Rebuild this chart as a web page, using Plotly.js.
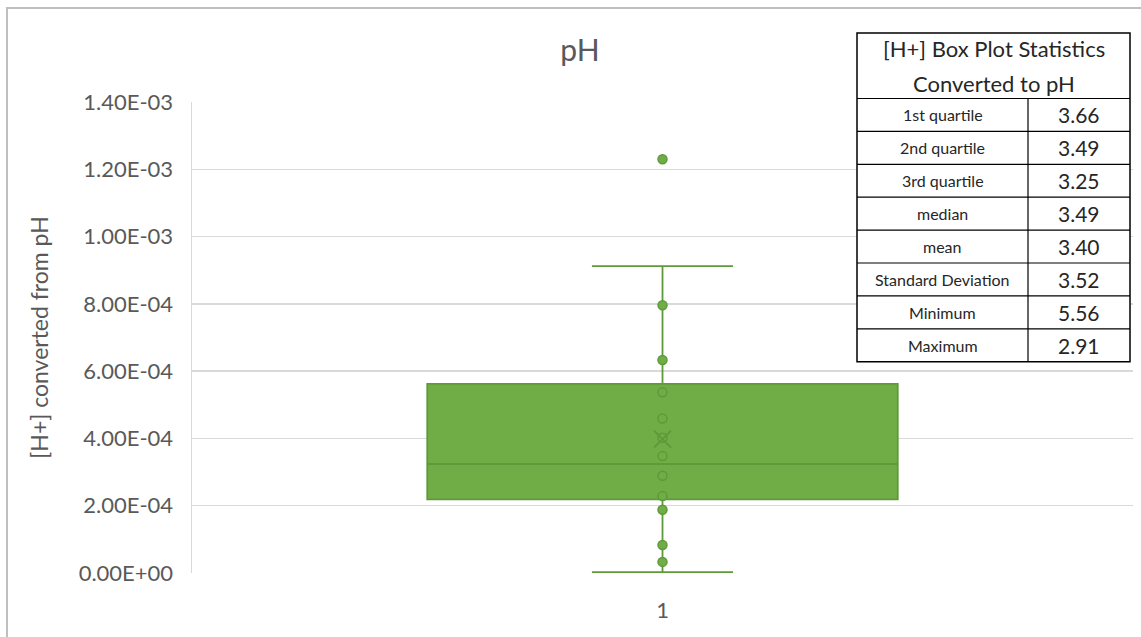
<!DOCTYPE html>
<html>
<head>
<meta charset="utf-8">
<script src="https://cdn.plot.ly/plotly-3.0.1.min.js"></script>
<style>html,body{margin:0;padding:0;background:#fff;}#chart{width:1141px;height:637px;}</style>
</head>
<body>
<div id="chart"></div>
<script>
// ---- data ----
const categories = ['1'];
const q1Vals = [2.19e-4];
const medianVals = [3.24e-4];
const q3Vals = [5.62e-4];
const lowerWhisker = [2.75e-6];
const upperWhisker = [9.12e-4];
const meanVals = [3.98e-4];
const pointVals = [3.3e-5, 8.3e-5, 1.88e-4, 2.29e-4, 2.89e-4, 3.48e-4, 4.02e-4, 4.59e-4, 5.37e-4, 6.33e-4, 7.96e-4, 1.23e-3];
const pointCats = pointVals.map(() => categories[0]);
const yTickVals = [0, 2e-4, 4e-4, 6e-4, 8e-4, 1e-3, 1.2e-3, 1.4e-3];
const yTickText = ['0.00E+00', '2.00E-04', '4.00E-04', '6.00E-04', '8.00E-04', '1.00E-03', '1.20E-03', '1.40E-03'];
const tableTitle = ['[H+] Box Plot Statistics', 'Converted to pH'];
const statLabels = ['1st quartile', '2nd quartile', '3rd quartile', 'median', 'mean', 'Standard Deviation', 'Minimum', 'Maximum'];
const statValues = ['3.66', '3.49', '3.25', '3.49', '3.40', '3.52', '5.56', '2.91'];

// ---- layout geometry (pixels) ----
const W = 1141, H = 637, ML = 192, MR = 8, MT = 102, MB = 64;
const PW = W - ML - MR, PH = H - MT - MB;
const px = v => (v - ML) / PW;
const py = v => (H - MB - v) / PH;

const green = '#70AD47', greenDark = '#5E9A3A';
const FONT = 'Lato, "Liberation Sans", sans-serif';

const traces = [
  {
    type: 'box', x: categories, q1: q1Vals, median: medianVals, q3: q3Vals,
    lowerfence: lowerWhisker, upperfence: upperWhisker,
    boxpoints: false, width: 0.5, whiskerwidth: 0.3,
    fillcolor: green, line: {color: greenDark, width: 1.8},
    hoverinfo: 'skip', showlegend: false
  },
  {
    type: 'scatter', mode: 'markers', x: pointCats, y: pointVals,
    marker: {color: green, size: 9, line: {color: greenDark, width: 1.5}},
    showlegend: false, hoverinfo: 'y'
  },
  {
    type: 'scatter', mode: 'markers', x: categories, y: meanVals,
    marker: {symbol: 'x-thin-open', size: 17, color: greenDark, line: {color: greenDark, width: 2}},
    showlegend: false, hoverinfo: 'y'
  }
];

// ---- statistics table built from arrays ----
const tL = 857, tR = 1130, tC = 1028, tTop = 33, tHead = 98.5, rowH = 32.9;
const tBot = tHead + rowH * statLabels.length;
const shapes = [
  // chart border
  {type: 'rect', xref: 'paper', yref: 'paper', x0: px(7), x1: px(1160), y0: py(8), y1: py(700),
   line: {color: '#BFBFBF', width: 2}, fillcolor: 'rgba(0,0,0,0)', layer: 'above'},
  // table background and frame
  {type: 'rect', xref: 'paper', yref: 'paper', x0: px(tL), x1: px(tR), y0: py(tTop), y1: py(tBot),
   line: {color: '#000', width: 1.5}, fillcolor: '#fff', layer: 'above'},
  {type: 'line', xref: 'paper', yref: 'paper', x0: px(tC), x1: px(tC), y0: py(tHead), y1: py(tBot),
   line: {color: '#000', width: 1.2}, layer: 'above'}
];
for (let i = 0; i < statLabels.length; i++) {
  const yLine = tHead + rowH * i;
  shapes.push({type: 'line', xref: 'paper', yref: 'paper', x0: px(tL), x1: px(tR), y0: py(yLine), y1: py(yLine),
    line: {color: '#000', width: 1.2}, layer: 'above'});
}
const annotations = [];
tableTitle.forEach((t, i) => {
  annotations.push({text: t, xref: 'paper', yref: 'paper', x: px((tL + tR) / 2), y: py(48 + 35 * i),
    xanchor: 'center', yanchor: 'middle', showarrow: false, font: {family: FONT, size: 22, color: '#262626'}});
});
statLabels.forEach((lab, i) => {
  const yc = tHead + rowH * (i + 0.5);
  annotations.push({text: lab, xref: 'paper', yref: 'paper', x: px((tL + tC) / 2), y: py(yc),
    xanchor: 'center', yanchor: 'middle', showarrow: false, font: {family: FONT, size: 16, color: '#262626'}});
  annotations.push({text: statValues[i], xref: 'paper', yref: 'paper', x: px((tC + tR) / 2), y: py(yc),
    xanchor: 'center', yanchor: 'middle', showarrow: false, font: {family: FONT, size: 21, color: '#262626'}});
});

const layout = {
  width: W, height: H,
  margin: {l: ML, r: MR, t: MT, b: MB, pad: 0},
  paper_bgcolor: '#fff', plot_bgcolor: '#fff',
  font: {family: FONT, color: '#595959'},
  title: {text: 'pH', x: 580 / W, xanchor: 'center', xref: 'container', y: 1 - 50 / H, yanchor: 'middle', yref: 'container',
          font: {family: FONT, size: 30, color: '#595959'}},
  xaxis: {type: 'category', range: [-0.5, 0.5], showgrid: false, zeroline: false, showline: false,
          ticks: '', ticklabelstandoff: 22, tickfont: {family: FONT, size: 22, color: '#595959'}, fixedrange: true},
  yaxis: {range: [0, 1.4e-3], tickmode: 'array', tickvals: yTickVals, ticktext: yTickText,
          showgrid: true, gridcolor: '#D9D9D9', gridwidth: 1.5, zeroline: false,
          showline: true, linecolor: '#D9D9D9', linewidth: 1.5, ticks: '', ticklabelstandoff: 13,
          tickfont: {family: FONT, size: 22, color: '#595959'},
          title: {text: '[H+] converted from pH', standoff: 23, font: {family: FONT, size: 23, color: '#595959'}},
          automargin: false},
  showlegend: false,
  shapes: shapes,
  annotations: annotations
};

Plotly.newPlot('chart', traces, layout, {staticPlot: true, displayModeBar: false});
</script>
</body>
</html>
